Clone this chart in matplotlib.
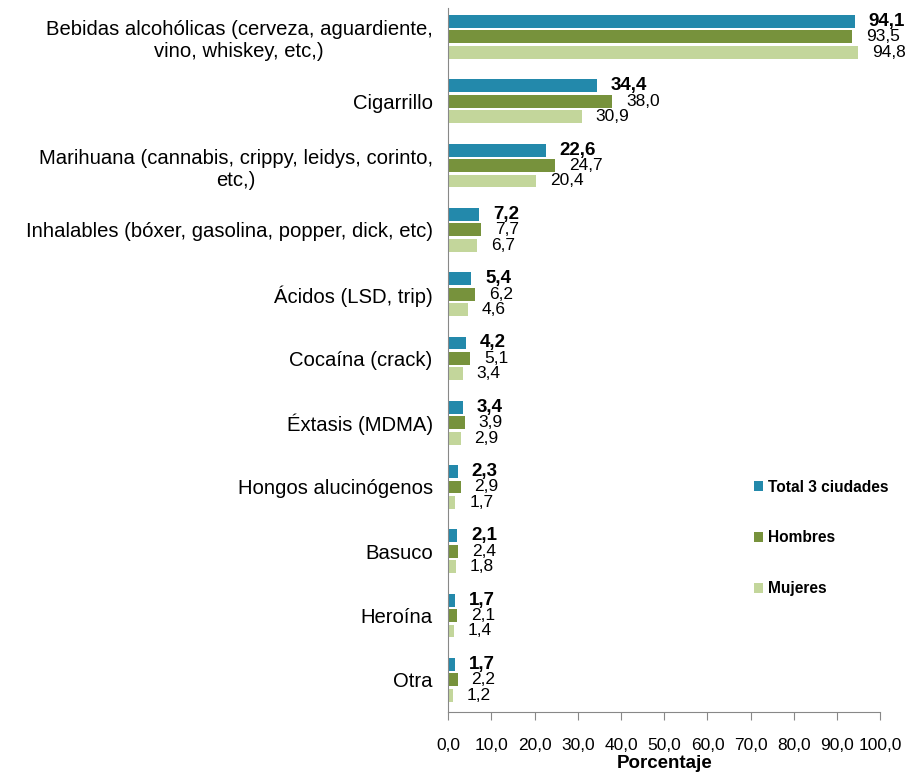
import numpy as np
import matplotlib.pyplot as plt

plt.rcParams['font.family'] = ['Liberation Sans', 'DejaVu Sans']

categorias = [
    "Bebidas alcohólicas (cerveza, aguardiente,\nvino, whiskey, etc,)",
    "Cigarrillo",
    "Marihuana (cannabis, crippy, leidys, corinto,\netc,)",
    "Inhalables (bóxer, gasolina, popper, dick, etc)",
    "Ácidos (LSD, trip)",
    "Cocaína (crack)",
    "Éxtasis (MDMA)",
    "Hongos alucinógenos",
    "Basuco",
    "Heroína",
    "Otra",
]
total = [94.1, 34.4, 22.6, 7.2, 5.4, 4.2, 3.4, 2.3, 2.1, 1.7, 1.7]
hombres = [93.5, 38.0, 24.7, 7.7, 6.2, 5.1, 3.9, 2.9, 2.4, 2.1, 2.2]
mujeres = [94.8, 30.9, 20.4, 6.7, 4.6, 3.4, 2.9, 1.7, 1.8, 1.4, 1.2]
series_names = ["Total 3 ciudades", "Hombres", "Mujeres"]
colors = ["#2389AB", "#77923C", "#C3D69B"]

def fmt(v):
    return f"{v:.1f}".replace(".", ",")

fig = plt.figure(figsize=(9.08, 7.76), dpi=100)
ax = fig.add_axes([0.4934, 0.0825, 0.4763, 0.9072])

n = len(categorias)
pos = np.arange(n)[::-1].astype(float)
h = 0.2
step = 0.24
handles = []
for k, (vals, name, c) in enumerate(zip([total, hombres, mujeres], series_names, colors)):
    y = pos + step - k * step
    b = ax.barh(y, vals, height=h, color=c, label=name)
    handles.append(b)
    for yy, v in zip(y, vals):
        ax.text(v + 3.2, yy, fmt(v), va='center', ha='left',
                fontsize=13.5 if k == 0 else 12.5,
                fontweight='bold' if k == 0 else 'normal', color='black',
                clip_on=False)

ax.set_xlim(0, 100)
ax.set_ylim(-0.5, 10.45)
ax.set_yticks(pos)
ax.set_yticklabels(categorias, fontsize=14.6, multialignment='center')
ax.tick_params(axis='y', length=0, pad=11)
ax.set_xticks(np.arange(0, 101, 10))
ax.set_xticklabels([fmt(v) for v in np.arange(0, 101, 10)], fontsize=12.5)
ax.tick_params(axis='x', length=6, color='#888888', pad=13)
ax.set_xlabel("Porcentaje", fontsize=13.5, fontweight='bold', labelpad=1)

for s in ['top', 'right']:
    ax.spines[s].set_visible(False)
ax.spines['left'].set_color('#888888')
ax.spines['bottom'].set_color('#888888')

leg = fig.legend(handles=handles, loc='upper left', bbox_to_anchor=(0.815, 0.4),
                 frameon=False, handlelength=0.6, handleheight=0.6,
                 handletextpad=0.3, labelspacing=2.3,
                 prop={'weight': 'bold', 'size': 11.2})

fig.savefig("out.png", dpi=100)
